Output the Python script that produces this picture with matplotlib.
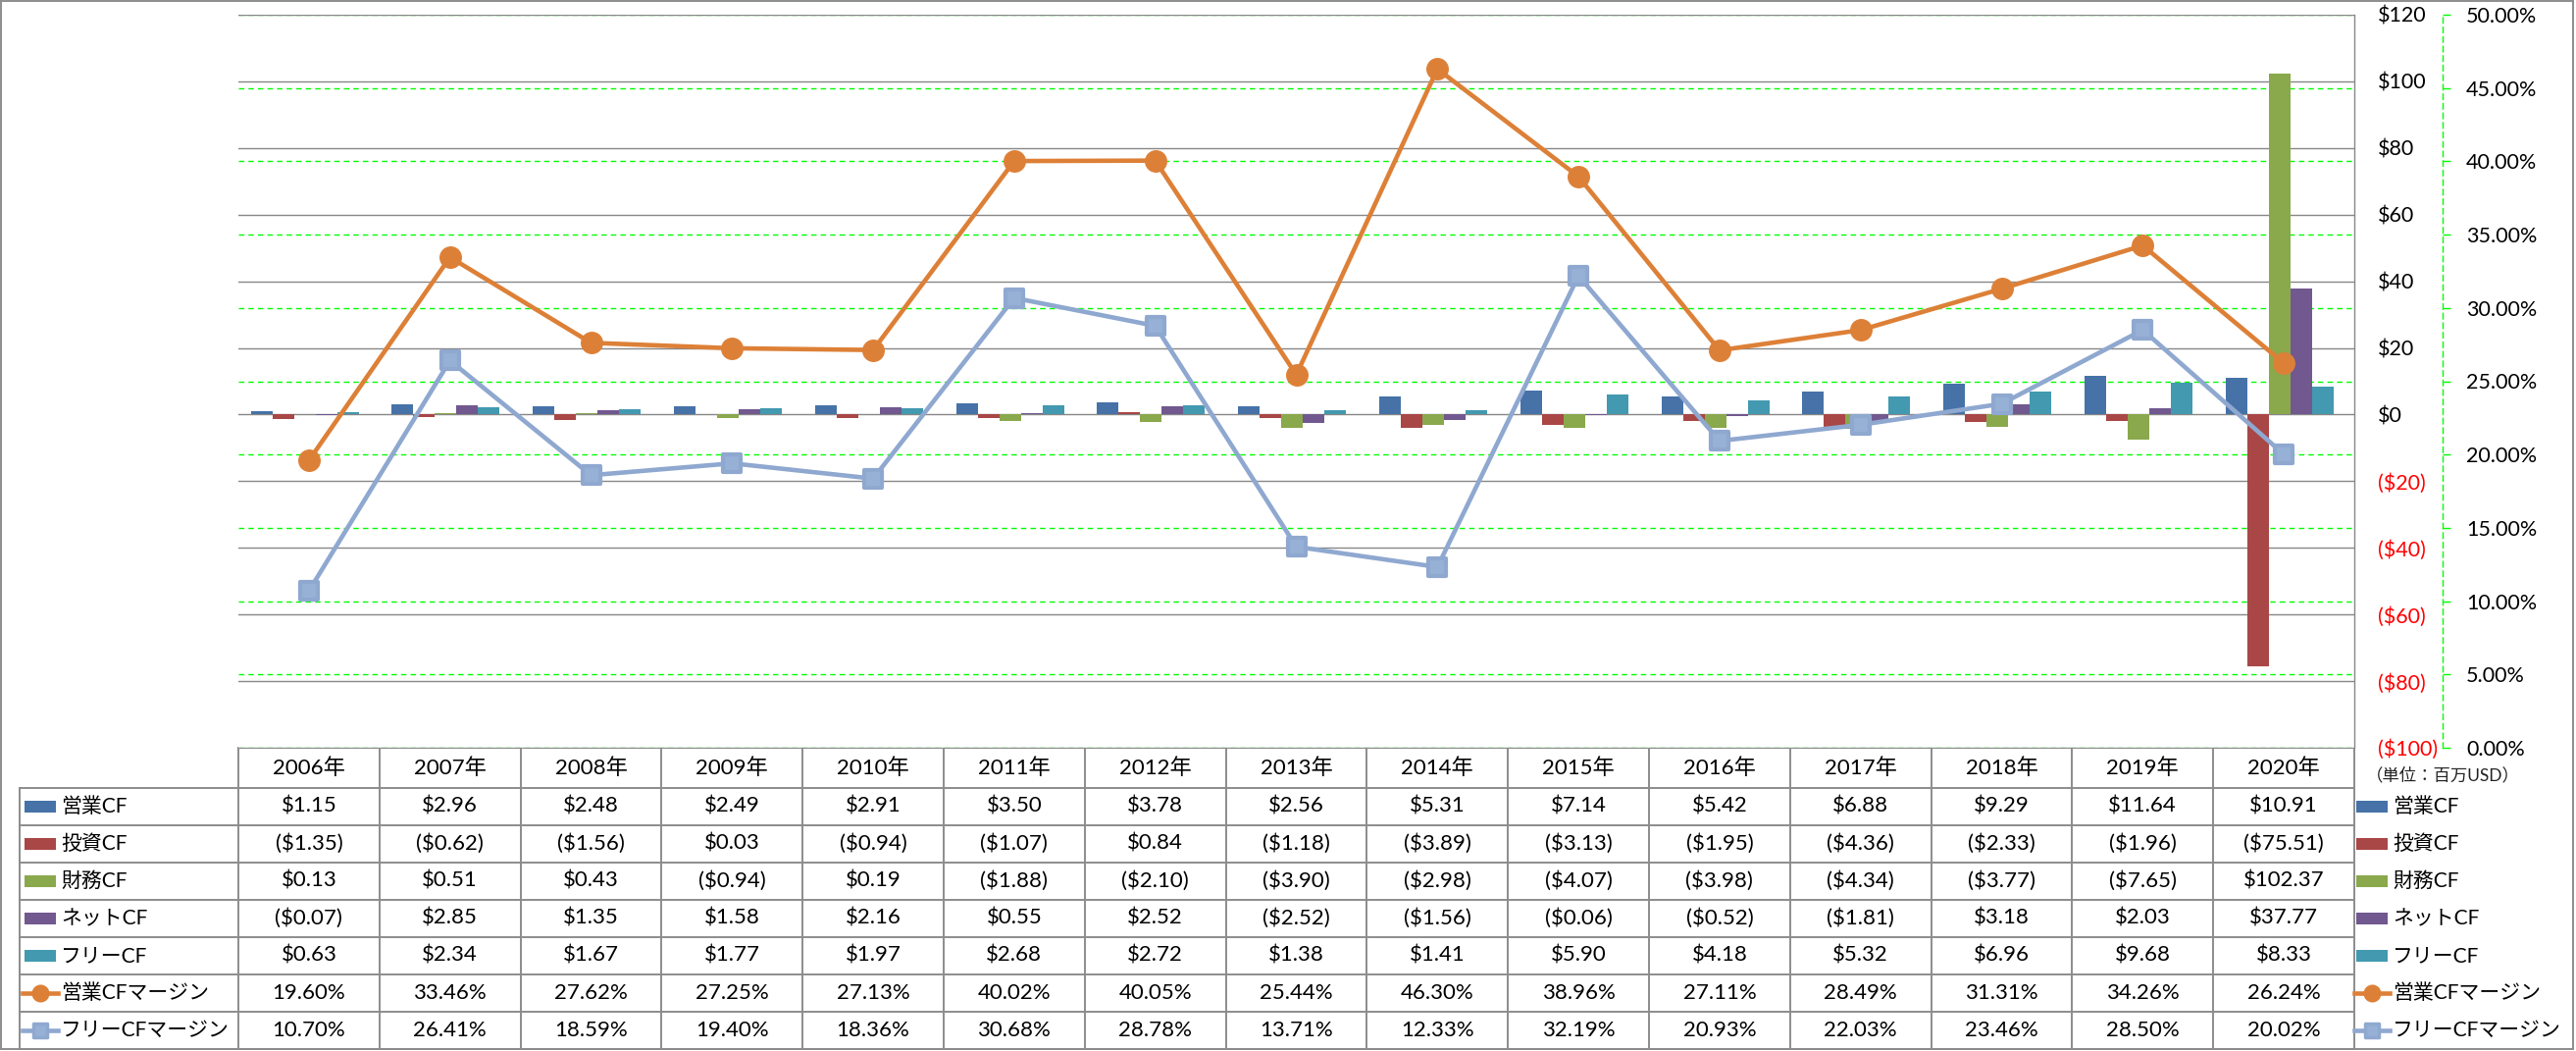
import matplotlib
matplotlib.use("Agg")
import matplotlib.pyplot as plt
import matplotlib.transforms as mtransforms
from matplotlib.markers import MarkerStyle
from matplotlib.patches import Rectangle
import numpy as np

plt.rcParams['font.family'] = ['Lato', 'Noto Sans CJK JP', 'DejaVu Sans']

years = ['2006年', '2007年', '2008年', '2009年', '2010年', '2011年', '2012年', '2013年',
         '2014年', '2015年', '2016年', '2017年', '2018年', '2019年', '2020年']

op_cf = [1.15, 2.96, 2.48, 2.49, 2.91, 3.50, 3.78, 2.56, 5.31, 7.14, 5.42, 6.88, 9.29, 11.64, 10.91]
inv_cf = [-1.35, -0.62, -1.56, 0.03, -0.94, -1.07, 0.84, -1.18, -3.89, -3.13, -1.95, -4.36, -2.33, -1.96, -75.51]
fin_cf = [0.13, 0.51, 0.43, -0.94, 0.19, -1.88, -2.10, -3.90, -2.98, -4.07, -3.98, -4.34, -3.77, -7.65, 102.37]
net_cf = [-0.07, 2.85, 1.35, 1.58, 2.16, 0.55, 2.52, -2.52, -1.56, -0.06, -0.52, -1.81, 3.18, 2.03, 37.77]
free_cf = [0.63, 2.34, 1.67, 1.77, 1.97, 2.68, 2.72, 1.38, 1.41, 5.90, 4.18, 5.32, 6.96, 9.68, 8.33]
op_margin = [19.60, 33.46, 27.62, 27.25, 27.13, 40.02, 40.05, 25.44, 46.30, 38.96, 27.11, 28.49, 31.31, 34.26, 26.24]
free_margin = [10.70, 26.41, 18.59, 19.40, 18.36, 30.68, 28.78, 13.71, 12.33, 32.19, 20.93, 22.03, 23.46, 28.50, 20.02]

bar_names = ['営業CF', '投資CF', '財務CF', 'ネットCF', 'フリーCF']
bar_data = [op_cf, inv_cf, fin_cf, net_cf, free_cf]
bar_colors = ['#4672A8', '#A94646', '#8AA84C', '#71588F', '#4299B0']
line_names = ['営業CFマージン', 'フリーCFマージン']

dollar_ticks = list(range(-100, 121, 20))
pct_ticks = list(range(0, 51, 5))

ORANGE = '#DD8037'
BLUEGRAY = '#8FA8D0'
GRID = '#878787'
LIME = '#00FF00'

W, H = 2626, 1071
fig = plt.figure(figsize=(W / 100, H / 100), dpi=100)

# plot area in pixels
L, R, T, B = 243, 2400, 15, 762
rect = [L / W, 1 - B / H, (R - L) / W, (B - T) / H]

# table / frame layer in pixel coords
tab = fig.add_axes([0, 0, 1, 1], zorder=-5)
tab.set_xlim(0, W)
tab.set_ylim(H, 0)
tab.axis('off')

ax_pct = fig.add_axes(rect)
ax_bar = ax_pct.twinx()
ax_line = ax_pct.twinx()

x = np.arange(len(years))
for a in (ax_pct, ax_bar, ax_line):
    a.set_xlim(-0.5, len(years) - 0.5)
    a.set_xticks([])

# percent axis (outer right, green dashed)
ax_pct.set_ylim(0, 50)
ax_pct.set_yticks(pct_ticks)
ax_pct.set_yticklabels([f'{v:.2f}%' for v in pct_ticks])
ax_pct.yaxis.tick_right()
ax_pct.yaxis.grid(True, color=LIME, lw=1, ls=(0, (4, 3)))
ax_pct.tick_params(axis='y', direction='out', length=6, width=1, color=LIME,
                   pad=11, labelsize=15.5)
for s in ('left', 'top', 'bottom'):
    ax_pct.spines[s].set_visible(False)
ax_pct.spines['right'].set_position(('outward', 65))
ax_pct.spines['right'].set_color(LIME)
ax_pct.spines['right'].set_linestyle((0, (4, 3)))
ax_pct.spines['right'].set_linewidth(1)

# dollar axis with bars
ax_bar.set_ylim(-100, 120)
ax_bar.set_yticks(dollar_ticks)
ax_bar.set_yticklabels([f'${v}' if v >= 0 else f'(${-v})' for v in dollar_ticks])
for lab, v in zip(ax_bar.get_yticklabels(), dollar_ticks):
    lab.set_color('#FF0000' if v < 0 else 'black')
ax_bar.tick_params(axis='y', length=0, pad=17, labelsize=15.5)
ax_bar.yaxis.grid(True, color=GRID, lw=1.0)
ax_bar.set_axisbelow(True)
for s in ('left', 'top', 'bottom'):
    ax_bar.spines[s].set_visible(False)
ax_bar.spines['right'].set_color(GRID)
ax_bar.spines['right'].set_linewidth(1.0)

bw = 0.153
for k, (vals, c) in enumerate(zip(bar_data, bar_colors)):
    ax_bar.bar(x + (k - 2) * bw - 0.03, vals, width=bw, color=c, linewidth=0, zorder=2)

# margin lines
ax_line.set_ylim(0, 50)
ax_line.axis('off')
sq = MarkerStyle('s', joinstyle='round')
ax_line.plot(x, op_margin, color=ORANGE, lw=3.3, marker='o', ms=15.5,
             mfc=ORANGE, mec=ORANGE, clip_on=False, zorder=3)
ax_line.plot(x, free_margin, color=BLUEGRAY, lw=3.3, marker=sq, ms=12.5,
             mfc='#97B0D6', mec=BLUEGRAY, mew=3, clip_on=False, zorder=3)

# ---- data table ----
bt = mtransforms.blended_transform_factory(ax_bar.transData, tab.transData)
row_h = 38
hdr_top, hdr_bot = 762, 803
tab_bot = hdr_bot + row_h * 7
lc = '#8C8C8C'

for i in range(len(years) + 1):
    tab.plot([i - 0.5, i - 0.5], [hdr_top, tab_bot], color=lc, lw=1.4, transform=bt, clip_on=False)
tab.plot([20, 20], [hdr_bot, tab_bot], color=lc, lw=1.4)
tab.plot([L, R], [hdr_top, hdr_top], color=lc, lw=1.4)
for r in range(8):
    yy = hdr_bot + r * row_h
    tab.plot([20, R], [yy, yy], color=lc, lw=1.4)

fs = 16
for i, yr in enumerate(years):
    tab.text(i, (hdr_top + hdr_bot) / 2, yr, transform=bt, ha='center', va='center', fontsize=fs)


def fmt_dollar(v):
    return f'${v:.2f}' if v >= 0 else f'(${-v:.2f})'


rows = bar_data + [op_margin, free_margin]
for r, vals in enumerate(rows):
    yc = hdr_bot + r * row_h + row_h / 2
    for i, v in enumerate(vals):
        s = fmt_dollar(v) if r < 5 else f'{v:.2f}%'
        tab.text(i, yc, s, transform=bt, ha='center', va='center', fontsize=fs)


def draw_key(x0, yc, r):
    if r < 5:
        tab.add_patch(Rectangle((x0 + 2, yc - 6), 32, 12, color=bar_colors[r], lw=0))
    elif r == 5:
        tab.plot([x0, x0 + 18, x0 + 36], [yc] * 3, color=ORANGE, lw=3.3, marker='o',
                 ms=12, markevery=[1], mfc=ORANGE, mec=ORANGE)
    else:
        tab.plot([x0, x0 + 18, x0 + 36], [yc] * 3, color=BLUEGRAY, lw=3.3, marker=sq,
                 ms=9.5, markevery=[1], mfc='#97B0D6', mec=BLUEGRAY, mew=2.5)


names = bar_names + line_names
for r, nm in enumerate(names):
    yc = hdr_bot + r * row_h + row_h / 2
    draw_key(23, yc, r)
    tab.text(62, yc, nm, ha='left', va='center', fontsize=15)
    draw_key(2400, yc, r)
    tab.text(2439, yc, nm, ha='left', va='center', fontsize=15)

tab.text(2490, 790, '（単位：百万USD）', ha='center', va='center', fontsize=12.5, color='#222222')

# outer frame
tab.add_patch(Rectangle((1, 1), W - 4, H - 3, fill=False, edgecolor='#8C8C8C', lw=1.4))

fig.savefig('out.png', dpi=100)
